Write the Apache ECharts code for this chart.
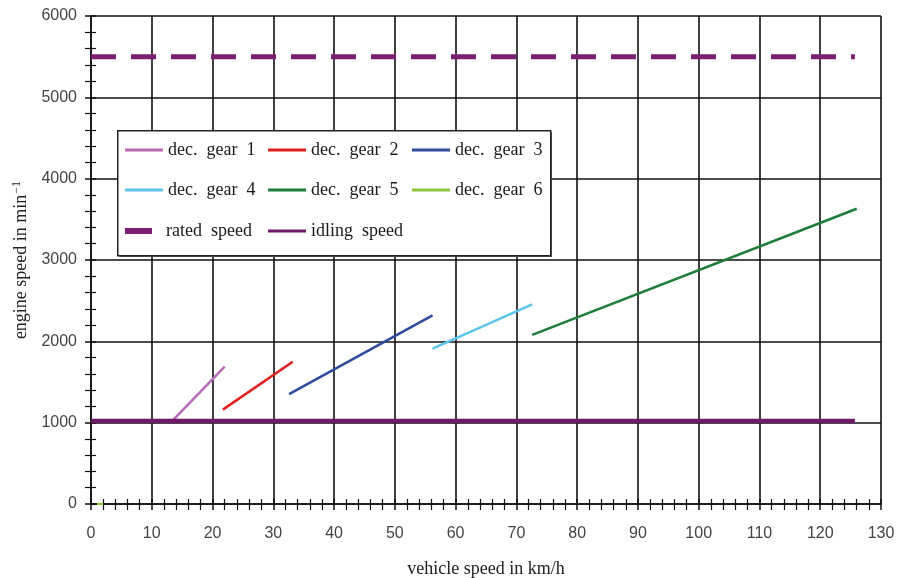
<!DOCTYPE html>
<html><head><meta charset="utf-8">
<script src="https://cdn.jsdelivr.net/npm/echarts@6/dist/echarts.min.js"></script>
<style>html,body{margin:0;padding:0;background:#fff}#c{width:905px;height:578px}</style>
</head><body><div id="c"></div>
<script>
// ---- data ----
const xMin = 0, xMax = 130, xStep = 10;
const yMin = 0, yMax = 6000, yStep = 1000;
const seriesNames = ['dec. gear 1','dec. gear 2','dec. gear 3','dec. gear 4','dec. gear 5','dec. gear 6','rated speed','idling speed'];
const gear1 = [[13.5,1030],[22.0,1690]];
const gear2 = [[21.7,1160],[33.2,1750]];
const gear3 = [[32.6,1350],[56.2,2320]];
const gear4 = [[56.2,1910],[72.6,2455]];
const gear5 = [[72.6,2080],[126.0,3630]];
const gear6 = [[1.0,0],[2.0,0]];
const ratedSpeed = [[0,5500],[125.7,5500]];
const idlingSpeed = [[0,1020],[125.7,1020]];
const seriesData = [gear1,gear2,gear3,gear4,gear5,gear6,ratedSpeed,idlingSpeed];
const colors = ['#b96ab5','#e0201e','#2f4a9a','#5cc5ea','#1e7d3a','#8cc63f','#7b1f72','#6e1a66'];

const serif = 'Liberation Serif';
const sans = 'Liberation Sans';

const chart = echarts.init(document.getElementById('c'), null, {renderer:'canvas'});

const series = seriesData.map((d,i)=>{
  const s = {name: seriesNames[i], type:'line', data:d, symbol:'none', silent:true,
    lineStyle:{color:colors[i], width:2.5}, itemStyle:{color:colors[i]}, z:2};
  if (i===6) s.lineStyle = {color:colors[i], width:5, type:[25,15]};
  if (i===7) s.lineStyle = {color:colors[i], width:4.5};
  return s;
});

// legend placements [left, top]
const legPos = [[125,141],[268,141],[412,141],[125,181],[268,181],[412,181],[125,222],[268,222]];
const legends = seriesNames.map((n,i)=>({
  data:[n], left:legPos[i][0], top:legPos[i][1], orient:'horizontal', padding:0,
  icon:'rect', itemWidth: i===6?27:38, itemHeight: i===6?6:3,
  selectedMode:false,
  formatter: (name)=> (i===6 ? '\u2002' : '') + name.replace(/ /g,'\u2002'),
  textStyle:{fontFamily:serif, fontSize:18, color:'#1a1a1a'}
}));

const baseX = {
  type:'value', min:xMin, max:xMax, interval:xStep, position:'bottom'
};
const baseY = {
  type:'value', min:yMin, max:yMax, interval:yStep, position:'left'
};

chart.setOption({
  animation:false,
  backgroundColor:'#fff',
  grid:{left:91, right:24, top:16, bottom:74, containLabel:false, outerBoundsMode:'none'},
  legend: legends,
  graphic:[
    {type:'rect', left:119, top:132, z:3, shape:{width:433, height:125}, style:{fill:'#666'}},
    {type:'rect', left:117, top:130, z:3, shape:{width:433, height:125}, style:{fill:'#fff', stroke:'#222', lineWidth:1.5}}
  ],
  xAxis:[
    Object.assign({}, baseX, {
      name:'vehicle speed in km/h', nameLocation:'middle', nameGap:56,
      nameTextStyle:{fontFamily:serif, fontSize:18, color:'#222'},
      axisLine:{show:true, onZero:false, lineStyle:{color:'#111', width:1.5}},
      axisTick:{show:true, length:6, lineStyle:{color:'#111', width:1.5}},
      minorTick:{show:true, splitNumber:5, length:6, lineStyle:{color:'#111', width:1.2}},
      splitLine:{show:true, lineStyle:{color:'#111', width:1.6}},
      axisLabel:{margin:22, fontFamily:sans, fontSize:16, color:'#444', formatter:(v)=>String(v)}
    }),
    Object.assign({}, baseX, {
      axisLine:{show:false, onZero:false},
      axisTick:{show:true, inside:true, length:5, lineStyle:{color:'#111', width:1.5}},
      minorTick:{show:true, splitNumber:5, length:5, lineStyle:{color:'#111', width:1.2}},
      splitLine:{show:false}, axisLabel:{show:false}
    })
  ],
  yAxis:[
    Object.assign({}, baseY, {
      name:'{a|engine speed in min}{b|−1}', nameLocation:'middle', nameGap:56,
      nameTextStyle:{color:'#222', rich:{
        a:{fontFamily:serif, fontSize:18, color:'#222'},
        b:{fontFamily:serif, fontSize:12, color:'#222', padding:[0,0,10,1]}
      }},
      axisLine:{show:true, onZero:false, lineStyle:{color:'#111', width:1.5}},
      axisTick:{show:true, length:6, lineStyle:{color:'#111', width:1.5}},
      minorTick:{show:true, splitNumber:5, length:6, lineStyle:{color:'#111', width:1.2}},
      splitLine:{show:true, lineStyle:{color:'#111', width:1.6}},
      axisLabel:{margin:14, fontFamily:sans, fontSize:16, color:'#444', formatter:(v)=>String(v)}
    }),
    Object.assign({}, baseY, {
      axisLine:{show:false, onZero:false},
      axisTick:{show:true, inside:true, length:5, lineStyle:{color:'#111', width:1.5}},
      minorTick:{show:true, splitNumber:5, length:5, lineStyle:{color:'#111', width:1.2}},
      splitLine:{show:false}, axisLabel:{show:false}
    })
  ],
  series: series
});
</script>
</body></html>
